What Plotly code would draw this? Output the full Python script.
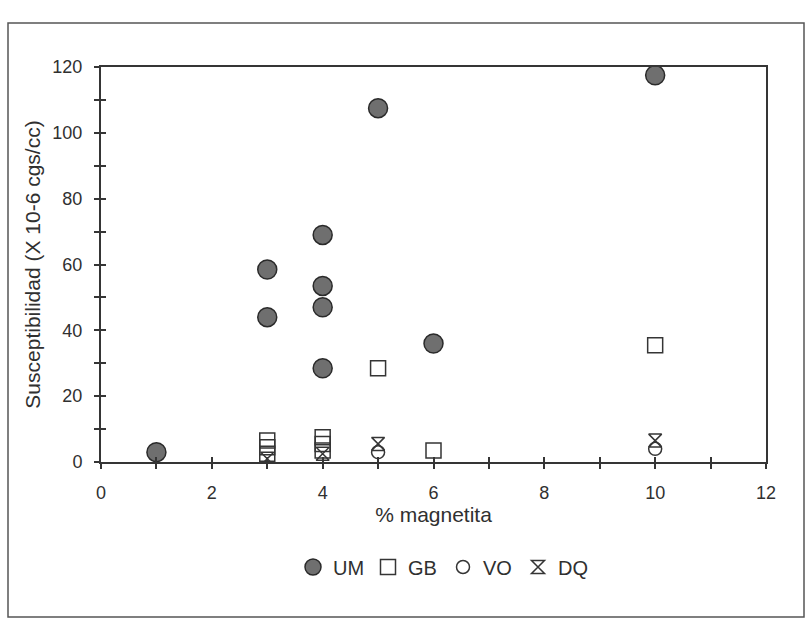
import plotly.graph_objects as go

# ---- data ----
um_x = [1, 3, 3, 4, 4, 4, 4, 5, 6, 10]
um_y = [3, 58.5, 44, 69, 53.5, 47, 28.5, 107.5, 36, 117.5]

gb_x = [3, 3, 3, 4, 4, 4, 5, 6, 10]
gb_y = [6.5, 4.5, 2.5, 7.5, 5.5, 3.5, 28.5, 3.5, 35.5]

vo_x = [5, 10]
vo_y = [3, 4]

dq_x = [3, 4, 5, 10]
dq_y = [1, 2.5, 5.5, 6.5]

x_range = [0, 12]
y_range = [0, 120]

# ---- layout constants ----
W, H = 807, 619
ML, MR, MT, MB = 101, 41, 67, 157
PW, PH = W - ML - MR, H - MT - MB
FONT = "Liberation Sans, Arial, Helvetica, sans-serif"
INK = "#353535"
TXT = "#303030"


def px_x(p):
    return (p - ML) / PW


def px_y(p):
    return (H - MB - p) / PH


fig = go.Figure()
fig.add_trace(go.Scatter(
    x=um_x, y=um_y, mode="markers", name="UM",
    marker=dict(symbol="circle", size=19, color="#6f6f6f",
                line=dict(color="#2a2a2a", width=1.5))))
fig.add_trace(go.Scatter(
    x=gb_x, y=gb_y, mode="markers", name="GB",
    marker=dict(symbol="square-open", size=15, color=INK,
                line=dict(color=INK, width=1.5))))
fig.add_trace(go.Scatter(
    x=vo_x, y=vo_y, mode="markers", name="VO",
    marker=dict(symbol="circle-open", size=13, color=INK,
                line=dict(color=INK, width=1.5))))
fig.add_trace(go.Scatter(
    x=dq_x, y=dq_y, mode="markers", name="DQ",
    marker=dict(symbol="hourglass-open", size=13, color=INK,
                line=dict(color=INK, width=1.5))))

axis_common = dict(showgrid=False, zeroline=False, showline=True,
                   linecolor=INK, linewidth=2, mirror=True,
                   ticks="outside", ticklen=5, tickwidth=1.5, tickcolor=INK,
                   tickfont=dict(family=FONT, size=18, color=TXT))

fig.update_layout(
    width=W, height=H,
    margin=dict(l=ML, r=MR, t=MT, b=MB, autoexpand=False),
    paper_bgcolor="white", plot_bgcolor="white",
    font=dict(family=FONT, color=TXT),
    showlegend=True,
    legend=dict(orientation="h", x=px_x(293), y=px_y(567),
                xanchor="left", yanchor="middle",
                font=dict(family=FONT, size=20, color=TXT),
                itemwidth=30, entrywidth=30, entrywidthmode="pixels",
                bgcolor="rgba(0,0,0,0)"),
    xaxis=dict(range=x_range, dtick=2, tick0=0,
               minor=dict(dtick=1, ticks="outside", ticklen=5,
                          tickwidth=1.5, tickcolor=INK),
               ticklabelstandoff=8,
               title=dict(text="% magnetita", standoff=6,
                          font=dict(family=FONT, size=21, color=TXT)),
               **axis_common),
    yaxis=dict(range=y_range, dtick=20, tick0=0,
               minor=dict(dtick=10, ticks="outside", ticklen=5,
                          tickwidth=1.5, tickcolor=INK),
               ticklabelstandoff=8,
               title=dict(text="Susceptibilidad (X 10-6 cgs/cc)", standoff=6,
                          font=dict(family=FONT, size=21, color=TXT)),
               **axis_common),
    xaxis2=dict(overlaying="x", matches="x", range=x_range, side="bottom",
                showgrid=False, zeroline=False, showline=False,
                showticklabels=False, ticks="inside", ticklen=5,
                tickwidth=1.5, tickcolor=INK, dtick=1, tick0=0),
    yaxis2=dict(overlaying="y", matches="y", range=y_range, side="left",
                showgrid=False, zeroline=False, showline=False,
                showticklabels=False, ticks="inside", ticklen=5,
                tickwidth=1.5, tickcolor=INK, dtick=10, tick0=0),
)

# invisible trace so the crossing-tick overlay axes are drawn
fig.add_trace(go.Scatter(x=[None], y=[None], xaxis="x2", yaxis="y2",
                         showlegend=False, hoverinfo="skip"))

# outer frame of the figure
fig.add_shape(type="rect", xref="paper", yref="paper",
              x0=px_x(8), x1=px_x(804), y0=px_y(617), y1=px_y(23),
              line=dict(color="#555555", width=1.5), layer="below")

fig.write_html("out.html")
